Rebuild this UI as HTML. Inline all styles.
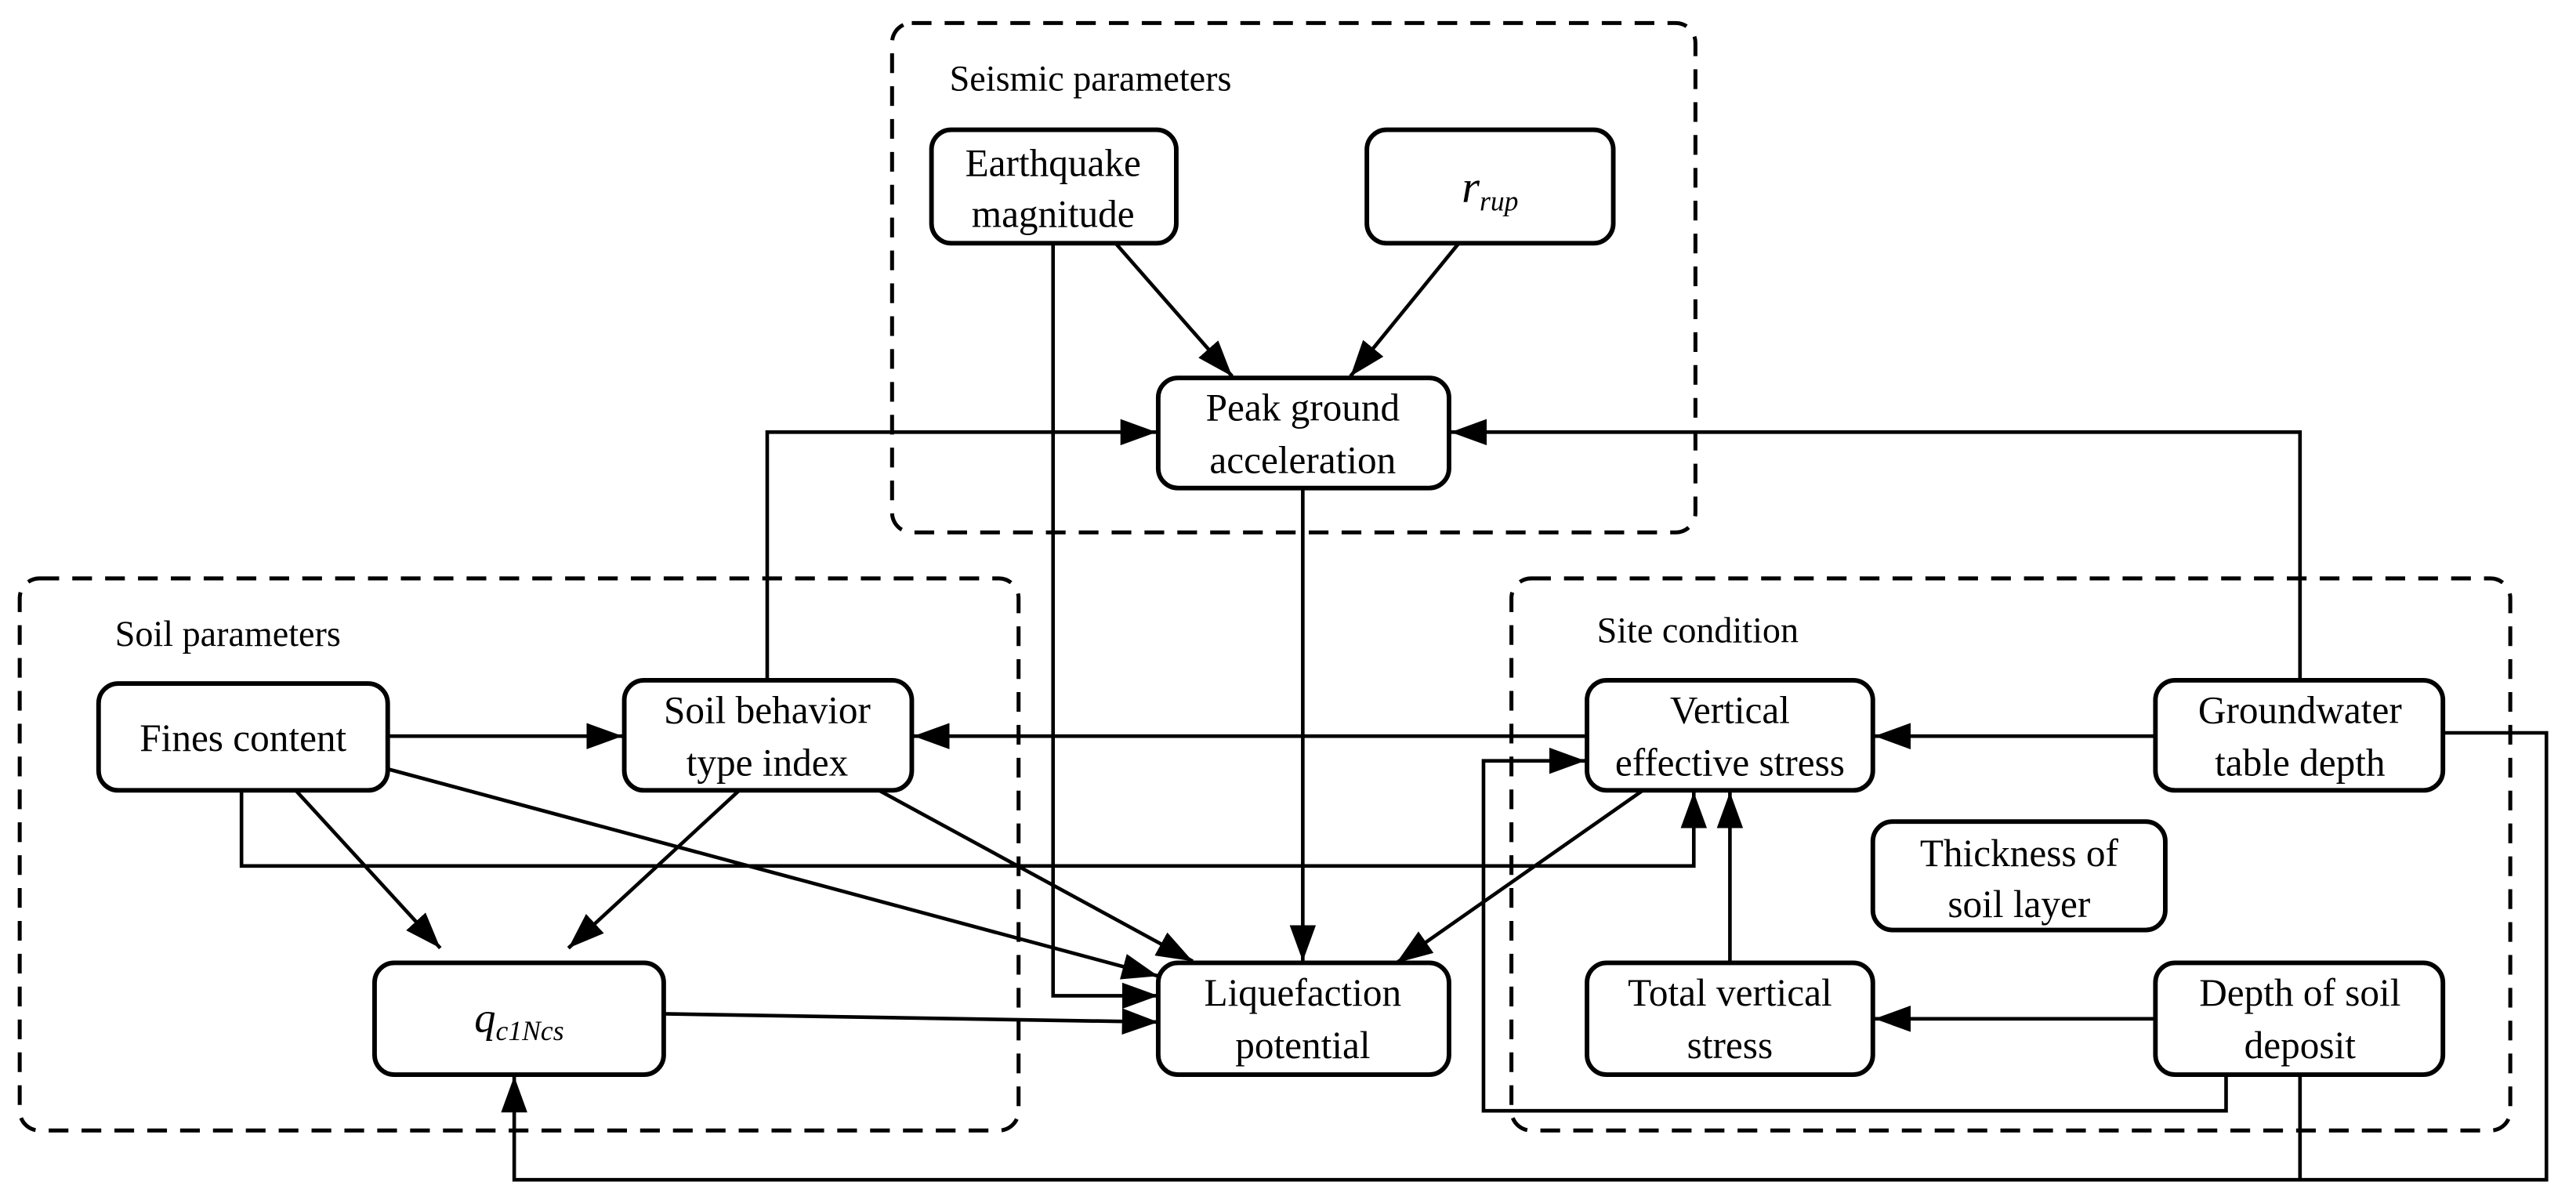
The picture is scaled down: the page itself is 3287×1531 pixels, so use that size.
<!DOCTYPE html>
<html><head><style>html,body{margin:0;padding:0;background:#fff}svg{display:block}</style></head>
<body>
<svg width="3287" height="1531" viewBox="0 0 1568 730.3" preserveAspectRatio="none" xmlns="http://www.w3.org/2000/svg">
<defs>
<marker id="a" markerUnits="userSpaceOnUse" markerWidth="24" markerHeight="16" refX="22" refY="8" orient="auto">
<path d="M0,0 L22,8 L0,16 Z" fill="#000"/>
</marker>
</defs>
<g fill="none" stroke="#000" stroke-width="2.4" stroke-dasharray="12,8">
<rect x="543" y="14" width="489" height="310" rx="12"/>
<rect x="12" y="352" width="608" height="336" rx="12"/>
<rect x="920" y="352" width="608" height="336" rx="12"/>
</g>
<g fill="#fff" stroke="#000" stroke-width="2.8">
<rect x="567" y="79" width="149" height="69" rx="12"/>
<rect x="832" y="79" width="150" height="69" rx="12"/>
<rect x="705" y="230" width="177" height="67" rx="12"/>
<rect x="60" y="416" width="176" height="65" rx="12"/>
<rect x="380" y="414" width="175" height="67" rx="12"/>
<rect x="228" y="586" width="176" height="68" rx="12"/>
<rect x="705" y="586" width="177" height="68" rx="12"/>
<rect x="966" y="414" width="174" height="67" rx="12"/>
<rect x="1312" y="414" width="175" height="67" rx="12"/>
<rect x="1140" y="500" width="178" height="66" rx="12"/>
<rect x="966" y="586" width="174" height="68" rx="12"/>
<rect x="1312" y="586" width="175" height="68" rx="12"/>
</g>
<g fill="none" stroke="#000" stroke-width="2.2">
<path d="M641,148 V606 H705" marker-end="url(#a)"/>
<path d="M679,148 L750,229" marker-end="url(#a)"/>
<path d="M888,148 L822,229" marker-end="url(#a)"/>
<path d="M793,297 V585" marker-end="url(#a)"/>
<path d="M404,617 L705,622" marker-end="url(#a)"/>
<path d="M236,448 H379" marker-end="url(#a)"/>
<path d="M180,481 L268,577" marker-end="url(#a)"/>
<path d="M450,481 L346,577" marker-end="url(#a)"/>
<path d="M236,468 L705,594" marker-end="url(#a)"/>
<path d="M535,481 L726,585" marker-end="url(#a)"/>
<path d="M1000,481 L850,586" marker-end="url(#a)"/>
<path d="M147,481 V527 H1031 V482" marker-end="url(#a)"/>
<path d="M467,414 V263 H704" marker-end="url(#a)"/>
<path d="M1400,414 V263 H883" marker-end="url(#a)"/>
<path d="M1312,448 H1141" marker-end="url(#a)"/>
<path d="M966,448 H556" marker-end="url(#a)"/>
<path d="M1487,446 H1550 V718 H313 V655" marker-end="url(#a)"/>
<path d="M1400,654 V718"/>
<path d="M1355,654 V676 H903 V463 H965" marker-end="url(#a)"/>
<path d="M1053,586 V482" marker-end="url(#a)"/>
<path d="M1312,620 H1141" marker-end="url(#a)"/>
</g>
<g style="font-family:'Liberation Serif',serif" font-size="23.5" text-anchor="middle" fill="#000">
<text x="578" y="55" text-anchor="start" font-size="22">Seismic parameters</text>
<text x="70" y="393" text-anchor="start" font-size="22">Soil parameters</text>
<text x="972" y="391" text-anchor="start" font-size="22">Site condition</text>
<text x="641" y="107">Earthquake</text><text x="641" y="138">magnitude</text>
<text x="907" y="123" font-style="italic" font-size="28">r<tspan font-size="17" dy="5">rup</tspan></text>
<text x="793" y="256">Peak ground</text><text x="793" y="288">acceleration</text>
<text x="148" y="457">Fines content</text>
<text x="467" y="440">Soil behavior</text><text x="467" y="472">type index</text>
<text x="316" y="628" font-style="italic" font-size="26">q<tspan font-size="17" dy="5">c1Ncs</tspan></text>
<text x="793" y="612">Liquefaction</text><text x="793" y="644">potential</text>
<text x="1053" y="440">Vertical</text><text x="1053" y="472">effective stress</text>
<text x="1400" y="440">Groundwater</text><text x="1400" y="472">table depth</text>
<text x="1229" y="527">Thickness of</text><text x="1229" y="558">soil layer</text>
<text x="1053" y="612">Total vertical</text><text x="1053" y="644">stress</text>
<text x="1400" y="612">Depth of soil</text><text x="1400" y="644">deposit</text>
</g>
</svg>
</body></html>
